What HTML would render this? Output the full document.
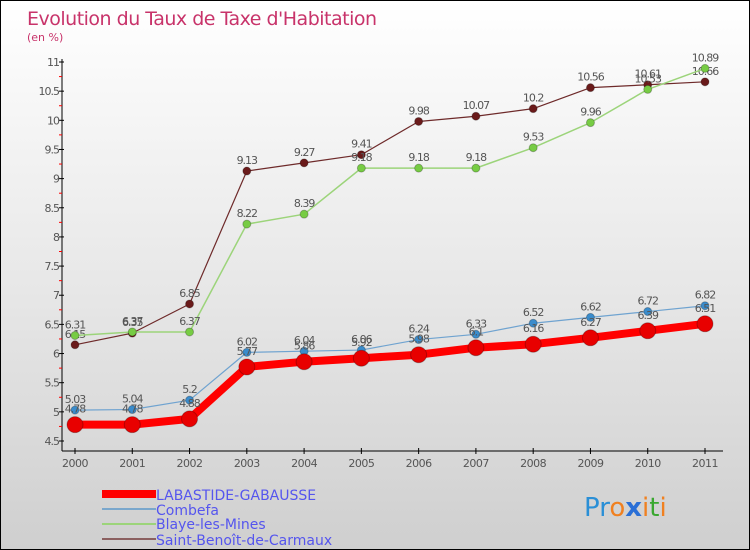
<!DOCTYPE html>
<html><head><meta charset="utf-8"><style>
body{margin:0}
#c{width:748px;height:548px;border:1px solid #000;background:linear-gradient(#ffffff,#e6e6e6 55%,#cfcfcf);position:relative;overflow:hidden;font-family:"DejaVu Sans","Liberation Sans",sans-serif}
svg text{font-family:"DejaVu Sans","Liberation Sans",sans-serif}
</style></head><body>
<div id="c">
<svg id="s" width="748" height="548" xmlns="http://www.w3.org/2000/svg">
<text x="26" y="24" font-size="19" fill="#c8336a" style="letter-spacing:-0.5px">Evolution du Taux de Taxe d'Habitation</text>
<text x="26" y="40" font-size="11" fill="#c8336a">(en %)</text>
<g id="axes"></g><g id="series"></g>
<g>
<rect x="101" y="489" width="54" height="8" fill="#f00"/>
<text x="155" y="499" font-size="14" fill="#5555ee">LABASTIDE-GABAUSSE</text>
<rect x="101" y="507" width="54" height="2" fill="#7aa7cc"/>
<text x="155" y="514" font-size="14" fill="#5555ee">Combefa</text>
<rect x="101" y="522" width="54" height="2" fill="#9cd47a"/>
<text x="155" y="528" font-size="14" fill="#5555ee">Blaye-les-Mines</text>
<rect x="101" y="537" width="54" height="2" fill="#8b6060"/>
<text x="155" y="544" font-size="14" fill="#5555ee">Saint-Benoît-de-Carmaux</text>
</g>
<text x="583" y="515" font-size="26"><tspan fill="#2a8fd6">Pr</tspan><tspan fill="#f08020">o</tspan><tspan fill="#2a6fd6" font-weight="bold">x</tspan><tspan fill="#f08020">i</tspan><tspan fill="#3aa830">t</tspan><tspan fill="#f08020">i</tspan></text>
</svg></div>
<script>
const years=[2000,2001,2002,2003,2004,2005,2006,2007,2008,2009,2010,2011];
const yTicks=[4.5,5,5.5,6,6.5,7,7.5,8,8.5,9,9.5,10,10.5,11];
const labastide=[4.78,4.78,4.88,5.77,5.86,5.92,5.98,6.1,6.16,6.27,6.39,6.51];
const combefa=[5.03,5.04,5.2,6.02,6.04,6.06,6.24,6.33,6.52,6.62,6.72,6.82];
const blaye=[6.31,6.37,6.37,8.22,8.39,9.18,9.18,9.18,9.53,9.96,10.53,10.89];
const saintBenoit=[6.15,6.35,6.85,9.13,9.27,9.41,9.98,10.07,10.2,10.56,10.61,10.66];
const NS="http://www.w3.org/2000/svg";
const x=i=>74+i*(630/11);
const y=v=>440-(v-4.5)*(379/6.5);
function mk(t,a,p){const e=document.createElementNS(NS,t);for(const k in a)e.setAttribute(k,a[k]);p.appendChild(e);return e;}
const ax=document.getElementById('axes');
const yl=mk('line',{x1:61,y1:58,x2:61,y2:450,stroke:'#000'},ax);


const xl=mk('line',{x1:61,y1:450,x2:722,y2:450,stroke:'#000'},ax);


yTicks.forEach((v,i)=>{
 mk('line',{x1:58,y1:y(v),x2:63,y2:y(v),stroke:'#000'},ax);
 if(i<yTicks.length-1)mk('line',{x1:58,y1:y(v+0.25),x2:61,y2:y(v+0.25),stroke:'#f00'},ax);
 const t=mk('text',{x:58,y:y(v)+4,'font-size':11,fill:'#555','text-anchor':'end','letter-spacing':'-1'},ax);
 t.textContent=String(v);
 
 
});
years.forEach((yr,i)=>{
 mk('line',{x1:x(i),y1:447,x2:x(i),y2:453,stroke:'#000'},ax);
 const t=mk('text',{x:x(i),y:466,'font-size':11,fill:'#555','text-anchor':'middle','letter-spacing':'-0.5'},ax);
 t.textContent=String(yr);
 
 
});
const sg=document.getElementById('series');
function series(d,name,col,dot,w,r,lblDy){
 const g=mk('g',{},sg);
 
 
 const pl=mk('polyline',{points:d.map((v,i)=>x(i)+','+y(v)).join(' '),fill:'none',stroke:col,'stroke-width':w,'stroke-linejoin':'round'},g);
 
 
 d.forEach((v,i)=>{
  const c=mk('circle',{cx:x(i),cy:y(v),r:r,fill:dot,stroke:'rgba(0,0,0,0.25)'},g);
  
  
  const t=mk('text',{x:x(i),y:y(v)+lblDy,'font-size':11,fill:'#555','text-anchor':'middle','letter-spacing':'-1'},g);
  t.textContent=String(v);
  
  
 });
}
series(saintBenoit,'saint-benoit','#6e2a2a','#6a1a1a',1.2,4,-7);
series(blaye,'blaye','#9cd47a','#77cc44',1.5,4,-7);
series(combefa,'combefa','#6fa3d0','#3a8ccc',1.2,4,-7);
series(labastide,'labastide','#f00','#e80000',8,8,-12);
</script>
</body></html>
